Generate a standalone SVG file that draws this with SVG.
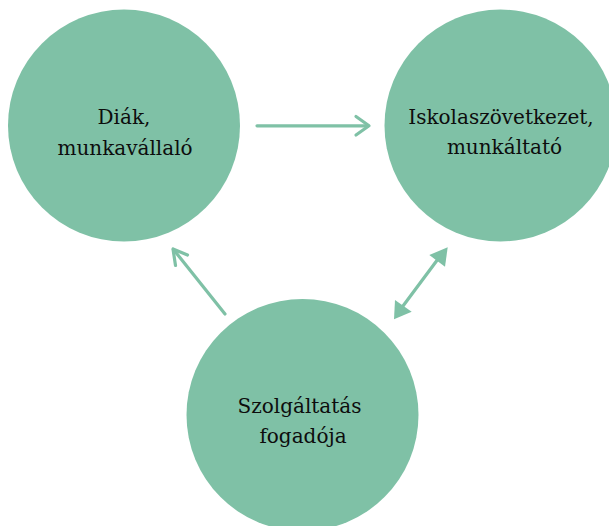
<svg xmlns="http://www.w3.org/2000/svg" width="609" height="526" viewBox="0 0 609 526">
<style>
.node{fill:#7fc1a6}
.lbl{font-family:"DejaVu Serif","Liberation Serif",serif;font-size:20px;fill:#0d0d0d;text-anchor:middle}
.conn{stroke:#7fc1a6;stroke-width:3.2;fill:none;stroke-linecap:round;stroke-linejoin:round}
.head{fill:#7fc1a6}
</style>
<rect width="609" height="526" fill="#ffffff"/>
<g id="node-diak">
<circle class="node" cx="124" cy="125.5" r="116"/>
<text class="lbl" x="124" y="124">Diák,</text>
<text class="lbl" x="125" y="155">munkavállaló</text>
</g>
<g id="node-iskola">
<circle class="node" cx="500.5" cy="125.5" r="116"/>
<text class="lbl" x="501" y="124">Iskolaszövetkezet,</text>
<text class="lbl" x="504.5" y="154">munkáltató</text>
</g>
<g id="node-szolg">
<circle class="node" cx="302.5" cy="415" r="116"/>
<text class="lbl" x="299.5" y="413">Szolgáltatás</text>
<text class="lbl" x="303" y="443">fogadója</text>
</g>
<g id="connectors">
<line class="conn" x1="257" y1="125.8" x2="368" y2="125.8"/>
<polyline class="conn" points="356,116.5 369,125.8 356,135"/>
<line class="conn" x1="225" y1="314" x2="173.5" y2="249.5"/>
<polyline class="conn" points="187.5,255 173,249 175.5,265.5"/>
<line class="conn" x1="403" y1="306" x2="438" y2="259"/>
<polygon class="head" points="447.7,247.3 429.3,255 445,266.7"/>
<polygon class="head" points="394,319.3 395,300 411.7,311.7"/>
</g>
</svg>
